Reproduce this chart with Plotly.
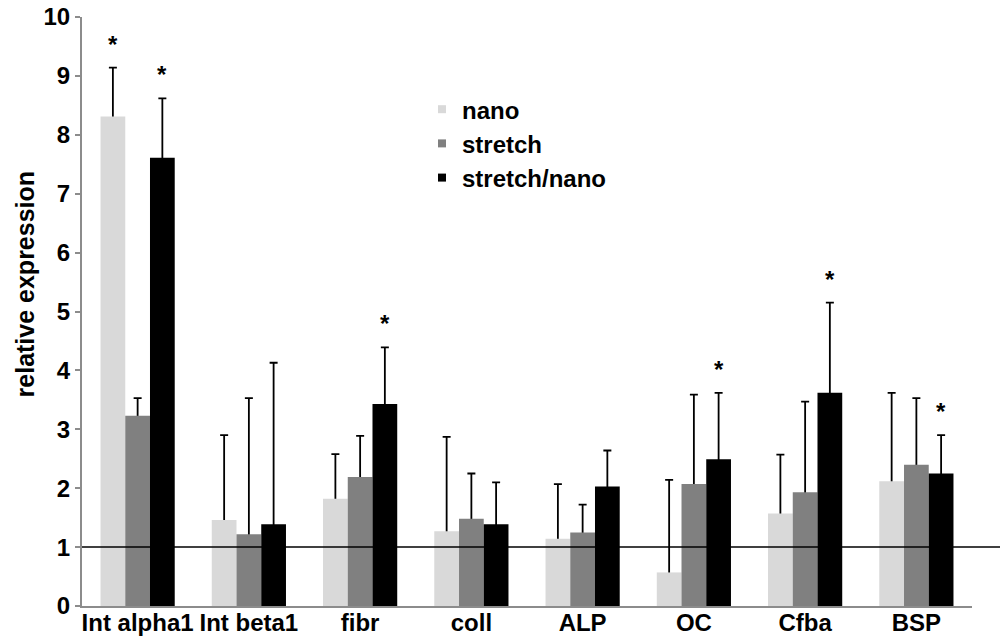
import plotly.graph_objects as go

categories = ["Int alpha1", "Int beta1", "fibr", "coll", "ALP", "OC", "Cfba", "BSP"]
series_names = ["nano", "stretch", "stretch/nano"]

nano = [8.31, 1.46, 1.82, 1.27, 1.14, 0.57, 1.57, 2.12]
stretch = [3.23, 1.22, 2.19, 1.48, 1.25, 2.07, 1.93, 2.40]
stretch_nano = [7.61, 1.39, 3.43, 1.39, 2.03, 2.49, 3.62, 2.25]

# upper error bar tops
nano_err_top = [9.14, 2.90, 2.58, 2.87, 2.07, 2.14, 2.57, 3.62]
stretch_err_top = [3.53, 3.53, 2.89, 2.25, 1.72, 3.59, 3.47, 3.53]
stretch_nano_err_top = [8.62, 4.13, 4.39, 2.10, 2.64, 3.62, 5.15, 2.90]

# significance asterisks
nano_sig = [1, 0, 0, 0, 0, 0, 0, 0]
stretch_sig = [0, 0, 0, 0, 0, 0, 0, 0]
stretch_nano_sig = [1, 0, 1, 0, 0, 1, 1, 1]

reference_level = 1

y_ticks = list(range(0, 11))
y_title = "relative expression"

colors = ["#d9d9d9", "#808080", "#000000"]
FONT = "Liberation Sans, Arial, sans-serif"

values = [nano, stretch, stretch_nano]
tops = [nano_err_top, stretch_err_top, stretch_nano_err_top]
sigs = [nano_sig, stretch_sig, stretch_nano_sig]

x_pos = list(range(len(categories)))
bargap = 0.333
bar_w = (1 - bargap) / len(series_names)

fig = go.Figure()
# error bars first (upper only; lower end hidden beneath the bars drawn later)
for k, name in enumerate(series_names):
    err = [t - v for t, v in zip(tops[k], values[k])]
    fig.add_trace(go.Bar(
        x=x_pos, y=values[k], name=name + " err", showlegend=False,
        offsetgroup=str(k), hoverinfo="skip",
        marker=dict(color="rgba(0,0,0,0)", line=dict(width=0)),
        error_y=dict(type="data", symmetric=False, array=err,
                     arrayminus=values[k], color="black",
                     thickness=1.8, width=4),
    ))
for k, name in enumerate(series_names):
    fig.add_trace(go.Bar(
        x=x_pos, y=values[k], name=name, showlegend=False,
        offsetgroup=str(k),
        marker=dict(color=colors[k], line=dict(width=0)),
    ))
for k, name in enumerate(series_names):
    fig.add_trace(go.Scatter(
        x=[None], y=[None], mode="markers", name=name,
        marker=dict(symbol="square", size=8, color=colors[k]),
    ))

annotations = []
for k in range(len(series_names)):
    for i, s in enumerate(sigs[k]):
        if s:
            annotations.append(dict(
                x=x_pos[i] + (k - 1) * bar_w, y=tops[k][i],
                xref="x", yref="y", text="*", showarrow=False,
                yanchor="bottom", yshift=8,
                font=dict(family=FONT, size=24, color="black", weight="bold"),
            ))
annotations.append(dict(
    x=-0.064, y=0.546, xref="paper", yref="paper", text=y_title,
    textangle=-90, showarrow=False, xanchor="center", yanchor="middle",
    font=dict(family=FONT, size=25, color="black", weight="bold"),
))

fig.add_shape(type="line", xref="paper", yref="y", x0=0, x1=1.05,
              y0=reference_level, y1=reference_level,
              line=dict(color="black", width=1.5), layer="above")

fig.update_layout(
    width=1000, height=637,
    margin=dict(l=82, r=28, t=17, b=31),
    paper_bgcolor="white", plot_bgcolor="white",
    barmode="group", bargap=bargap, bargroupgap=0,
    font=dict(family=FONT, size=24, color="black", weight="bold"),
    annotations=annotations,
    legend=dict(x=0.382, y=0.881, xanchor="left", yanchor="top",
                bgcolor="rgba(0,0,0,0)", itemwidth=30,
                font=dict(family=FONT, size=24, color="black", weight="bold")),
    xaxis=dict(range=[-0.5, len(categories) - 0.5], tickvals=x_pos,
               ticktext=categories, showline=True, linecolor="#8c8c8c",
               linewidth=2, ticks="", showgrid=False, zeroline=False,
               automargin=False, ticklabelstandoff=-6,
               tickfont=dict(family=FONT, size=24, color="black", weight="bold")),
    yaxis=dict(range=[0, 10], tickvals=y_ticks, showline=True,
               linecolor="#8c8c8c", linewidth=2, ticks="outside", ticklen=5,
               tickcolor="#8c8c8c", tickwidth=2, showgrid=False, zeroline=False,
               automargin=False,
               tickfont=dict(family=FONT, size=24, color="black", weight="bold")),
)

fig.write_html("out.html")
